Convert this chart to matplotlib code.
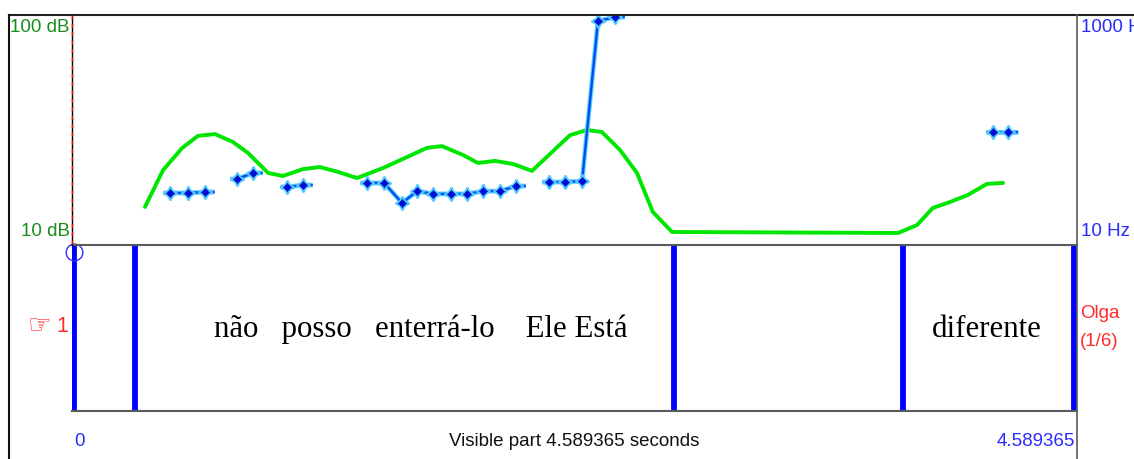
import matplotlib
matplotlib.use("Agg")
import matplotlib.pyplot as plt
from matplotlib.lines import Line2D

# ---- data -------------------------------------------------------------
total_dur = 4.589365

intensity_t = [0.328, 0.411, 0.498, 0.571, 0.649, 0.732, 0.801, 0.893, 0.961,
               1.053, 1.131, 1.214, 1.301, 1.420, 1.530, 1.622, 1.691, 1.788,
               1.856, 1.934, 2.017, 2.104, 2.279, 2.357, 2.425, 2.508, 2.586,
               2.659, 2.747, 3.784, 3.871, 3.944, 4.022, 4.105, 4.192, 4.266]
intensity_db = [24.9, 39.3, 47.9, 52.7, 53.4, 50.3, 46.0, 38.2, 37.0,
                39.7, 40.5, 38.6, 36.2, 40.1, 44.4, 48.0, 48.7, 45.2,
                42.1, 42.9, 41.7, 39.0, 53.0, 55.0, 54.2, 47.2, 38.2,
                22.9, 15.1, 14.7, 17.8, 24.5, 26.8, 29.6, 33.9, 34.3]

pitch_t = [0.443, 0.525, 0.603,
           0.750, 0.824,
           0.980, 1.053,
           1.347, 1.425, 1.508, 1.577, 1.650, 1.733, 1.806, 1.880, 1.957, 2.031,
           2.182, 2.256, 2.334, 2.407, 2.485,
           4.220, 4.289]
pitch_hz = [234, 234, 238,
            294, 320,
            260, 268,
            277, 277, 191, 242, 230, 230, 230, 242, 242, 264,
            281, 281, 285, 974, 991,
            496, 496]
pitch_segment = [0, 0, 0,
                 1, 1,
                 2, 2,
                 3, 3, 3, 3, 3, 3, 3, 3, 3, 3,
                 4, 4, 4, 4, 4,
                 5, 5]

boundaries = [0.0, 0.2845, 2.756, 3.805, total_dur]
interval_labels = ["", "não   posso   enterrá-lo    Ele Está", "", "diferente"]
label_t = [0.142, 1.594, 3.28, 4.192]

db_range = (10, 100)
hz_range = (10, 1000)
tier_name = "1"
speaker = "Olga"
file_index = "(1/6)"

# ---- layout -----------------------------------------------------------
W, H = 1134, 459
fig = plt.figure(figsize=(W / 100, H / 100), dpi=100)
fig.patch.set_facecolor("white")


def fx(px):
    return px / W


def fy(py):
    return 1 - py / H


left_px, right_px = 72, 1077
top_px, mid_px, bot_px = 15, 245, 411
sec_per_px = total_dur / 1000.0
xlim = (-1.5 * sec_per_px, total_dur + 3.5 * sec_per_px)

ax = fig.add_axes([fx(left_px), fy(mid_px), fx(right_px) - fx(left_px),
                   fy(top_px) - fy(mid_px)])
ax2 = ax.twinx()
tier = fig.add_axes([fx(left_px), fy(bot_px), fx(right_px) - fx(left_px),
                     fy(mid_px) - fy(bot_px)])

for a in (ax, ax2, tier):
    a.set_xlim(*xlim)
    a.set_xticks([])
    a.set_yticks([])
    a.patch.set_alpha(0)
    for s in a.spines.values():
        s.set_visible(False)
ax.set_ylim(*db_range)
ax2.set_ylim(*hz_range)
tier.set_ylim(0, 1)

frame_gray = "#5a5a5a"


# frame lines in figure pixels
def hline(y, x0, x1, color, lw):
    fig.add_artist(Line2D([fx(x0), fx(x1)], [fy(y), fy(y)], color=color,
                          lw=lw, transform=fig.transFigure, zorder=5))


def vline(x, y0, y1, color, lw, **kw):
    fig.add_artist(Line2D([fx(x), fx(x)], [fy(y0), fy(y1)], color=color,
                          lw=lw, transform=fig.transFigure, zorder=5, **kw))


hline(top_px, 9, W, "#222222", 1.5)
vline(9, top_px, H, "#111111", 1.5)
vline(right_px, top_px, H, frame_gray, 1.2)
hline(mid_px, left_px, right_px, frame_gray, 1.5)
hline(bot_px, left_px, right_px, frame_gray, 1.5)
vline(left_px, top_px, mid_px, "black", 1.0)
vline(left_px, top_px, mid_px, "red", 1.0, linestyle=(0, (3, 3)))

# ---- intensity curve ----------------------------------------------------
ax.plot(intensity_t, intensity_db, color="#00e600", lw=2.8,
        solid_joinstyle="round", solid_capstyle="round", zorder=3)

# ---- pitch contour ------------------------------------------------------
tail_l, tail_r = 0.030, 0.045
for seg in sorted(set(pitch_segment)):
    ts = [t for t, s in zip(pitch_t, pitch_segment) if s == seg]
    hs = [h for h, s in zip(pitch_hz, pitch_segment) if s == seg]
    xs = [ts[0] - tail_l] + ts + [ts[-1] + tail_r]
    ys = [hs[0]] + hs + [hs[-1]]
    ax2.plot(xs, ys, color="#5fd0ff", lw=3.4, solid_capstyle="butt", zorder=3)
    ax2.plot(xs, ys, color="#0050f0", lw=1.7, solid_capstyle="butt", zorder=4)
    ax2.plot(ts, hs, linestyle="none", marker=(4, 1, 0), markersize=10,
             markerfacecolor="#0010d0", markeredgecolor="#55ccff",
             markeredgewidth=1.4, zorder=5)
    ax2.plot(ts, hs, linestyle="none", marker="o", markersize=3.5,
             markerfacecolor="#0010d0", markeredgecolor="#0010d0", zorder=6)

# ---- interval tier ------------------------------------------------------
for b in boundaries:
    tier.axvline(b, color="#0000ff", lw=4.2, solid_capstyle="round", zorder=3)
tier.plot([0], [0.955], marker="o", markersize=12, markerfacecolor="none",
          markeredgecolor="#3030ff", markeredgewidth=1.0, clip_on=False,
          zorder=6)

for t, lab in zip(label_t, interval_labels):
    if lab:
        tier.text(t, 0.49, lab, ha="center", va="center", fontsize=22.2,
                  family="Liberation Serif", color="black")

# ---- axis annotations ---------------------------------------------------
sans = "Liberation Sans"
green = "#1a8c1a"
blue = "#2a2aff"
red = "#ff2a2a"
fs = 13.5

fig.text(fx(70), fy(27), f"{db_range[1]} dB", ha="right", va="center",
         fontsize=fs, family=sans, color=green)
fig.text(fx(70), fy(231), f"{db_range[0]} dB", ha="right", va="center",
         fontsize=fs, family=sans, color=green)
fig.text(fx(1081), fy(28), f"{hz_range[1]} Hz", ha="left", va="center",
         fontsize=fs, family=sans, color=blue)
fig.text(fx(1081), fy(231), f"{hz_range[0]} Hz", ha="left", va="center",
         fontsize=fs, family=sans, color=blue)

fig.text(fx(51), fy(326), "\u261e", ha="right", va="center", fontsize=19,
         family="DejaVu Sans", color=red)
fig.text(fx(68), fy(327), tier_name, ha="right", va="center",
         fontsize=fs + 2, family=sans, color=red)
fig.text(fx(1080), fy(313), speaker, ha="left", va="center", fontsize=fs,
         family=sans, color=red)
fig.text(fx(1080), fy(341), file_index, ha="left", va="center", fontsize=fs,
         family=sans, color=red)

fig.text(fx(79.5), fy(441), "0", ha="center", va="center", fontsize=fs,
         family=sans, color=blue)
fig.text(fx(1075), fy(441), f"{total_dur}", ha="right", va="center",
         fontsize=fs, family=sans, color=blue)
fig.text(fx((left_px + right_px) / 2), fy(441),
         f"Visible part {total_dur} seconds", ha="center", va="center",
         fontsize=fs, family=sans, color="#111111")

fig.savefig("out.png", dpi=100, facecolor="white")
